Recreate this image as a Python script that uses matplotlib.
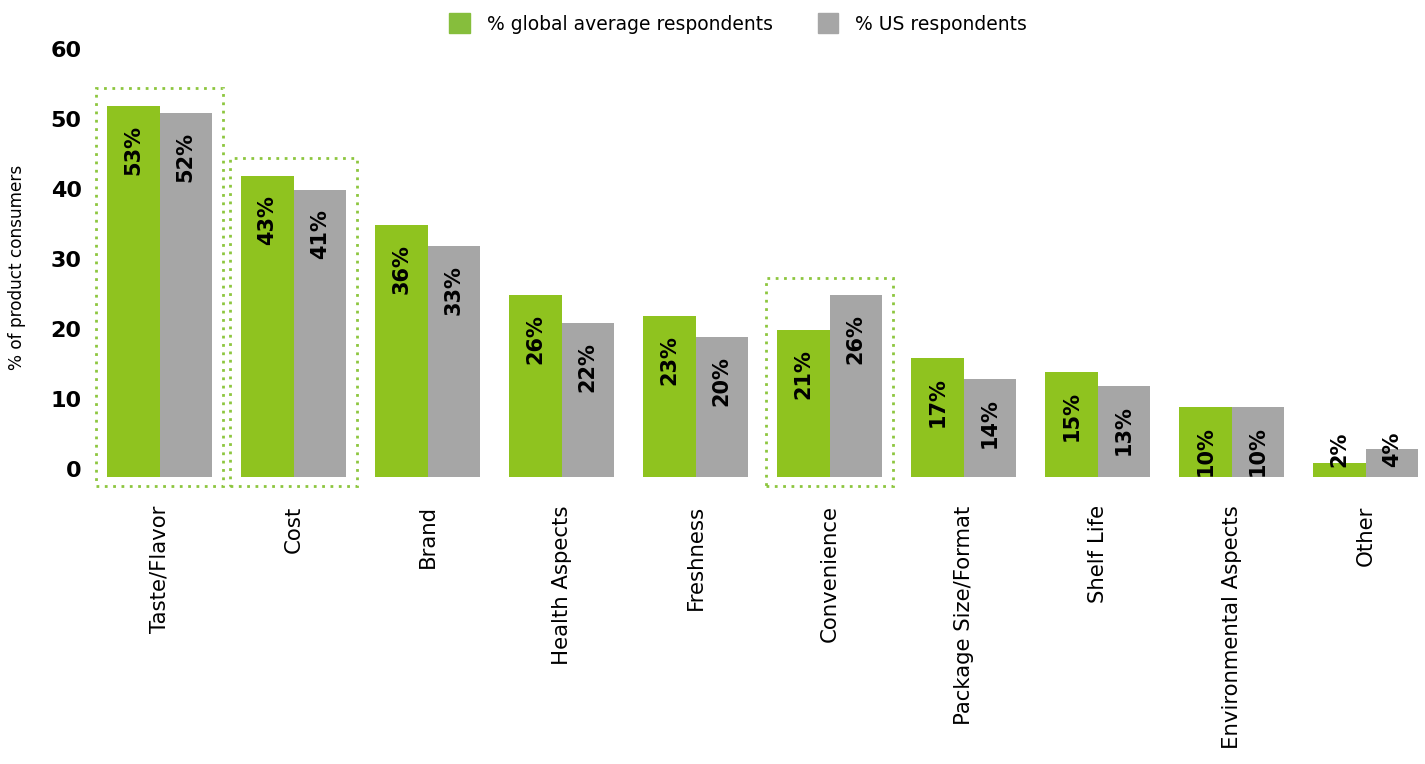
import numpy as np
import matplotlib
matplotlib.use('Agg')
import matplotlib.pyplot as plt
from matplotlib.patches import Patch, Rectangle

categories = ['Taste/Flavor', 'Cost', 'Brand', 'Health Aspects', 'Freshness',
              'Convenience', 'Package Size/Format', 'Shelf Life',
              'Environmental Aspects', 'Other']
global_pct = [53, 43, 36, 26, 23, 21, 17, 15, 10, 2]
us_pct = [52, 41, 33, 22, 20, 26, 14, 13, 10, 4]
highlighted = ['Taste/Flavor', 'Cost', 'Convenience']
yticks = [0, 10, 20, 30, 40, 50, 60]

GREEN = '#8FC31F'
GREEN_LEGEND = '#86BE3C'
GRAY = '#A6A6A6'
BOX = '#8DC63F'

plt.rcParams['font.family'] = ['DejaVu Sans']

fig = plt.figure(figsize=(14.25, 7.64), dpi=100)
ax = fig.add_axes([0.0632, 0.3586, 0.9368, 0.941 - 0.3586])

x = np.arange(len(categories))
w = 0.39
bars_g = ax.bar(x - w / 2, global_pct, width=w, color=GREEN)
bars_u = ax.bar(x + w / 2, us_pct, width=w, color=GRAY)


def label_bars(bars, vals):
    for b, v in zip(bars, vals):
        cx = b.get_x() + b.get_width() / 2
        if v < 6:
            ax.annotate(f'{v}%', (cx, 0), xytext=(0, 7), textcoords='offset points',
                        rotation=90, ha='center', va='bottom',
                        fontsize=15, fontweight='bold', color='black')
        else:
            ax.annotate(f'{v}%', (cx, v), xytext=(0, -14), textcoords='offset points',
                        rotation=90, ha='center', va='top',
                        fontsize=15, fontweight='bold', color='black')


label_bars(bars_g, global_pct)
label_bars(bars_u, us_pct)

# dotted frames around the highlighted groups
for name in highlighted:
    i = categories.index(name)
    top = max(global_pct[i], us_pct[i]) + 2.5
    ax.add_patch(Rectangle((i - 0.475, -1.3), 0.95, top + 1.3, fill=False,
                           edgecolor=BOX, linewidth=2, linestyle=(0, (1, 2)),
                           clip_on=False))

ax.set_xlim(-0.519, 9.444)
ax.set_ylim(-1.857, 61.7)
ax.set_yticks(yticks)
ax.set_yticklabels([str(t) for t in yticks], fontsize=16, fontweight='bold')
for lbl in ax.get_yticklabels():
    lbl.set_verticalalignment('baseline')
ax.set_xticks(x)
ax.set_xticklabels(categories, rotation=90, fontsize=15.3, va='top')
ax.tick_params(axis='both', length=0)
ax.tick_params(axis='y', pad=6)
ax.tick_params(axis='x', pad=11)
for s in ax.spines.values():
    s.set_visible(False)

fig.text(0.012, 0.65, '% of product consumers', rotation=90, fontsize=12.2,
         ha='center', va='center')

handles = [Patch(color=GREEN_LEGEND, label='% global average respondents'),
           Patch(color=GRAY, label='% US respondents')]
fig.legend(handles=handles, loc='upper center', bbox_to_anchor=(0.518, 1.005),
           ncol=2, frameon=False, fontsize=13.5, handlelength=1.1,
           handleheight=1.3, handletextpad=0.9, columnspacing=2.4)

fig.savefig('out.png', dpi=100)
